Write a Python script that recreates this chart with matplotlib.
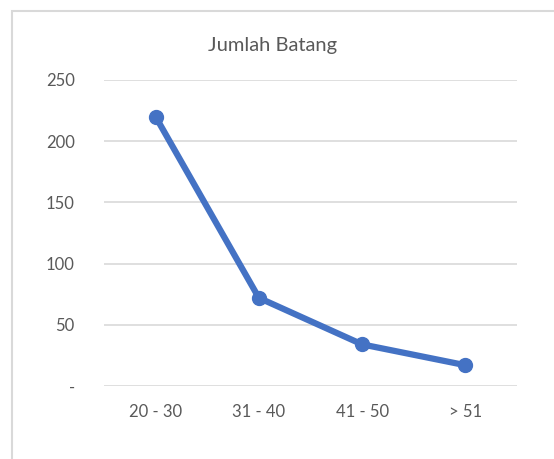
import matplotlib.pyplot as plt
from matplotlib.patches import Rectangle
from matplotlib.ticker import FuncFormatter

# Data
categories = ["20 - 30", "31 - 40", "41 - 50", "> 51"]
jumlah_batang = [220, 72, 34, 17]
y_ticks = [0, 50, 100, 150, 200, 250]

text_color = "#595959"
line_color = "#4472C4"
grid_color = "#D9D9D9"

plt.rcParams['font.family'] = ['Lato', 'DejaVu Sans']

fig = plt.figure(figsize=(5.54, 4.59), dpi=100)
ax = fig.add_axes([104 / 554, 1 - 386 / 459, (517 - 104) / 554, (386 - 80) / 459])

# Outer chart border (Excel-like frame, cut at right and bottom)
fig.patches.append(Rectangle((12 / 554, -0.01), 1.0, 1 - 11 / 459 + 0.01,
                             transform=fig.transFigure, fill=False,
                             edgecolor=grid_color, linewidth=1.5))

x = range(len(categories))
ax.plot(x, jumlah_batang, color=line_color, linewidth=4.5, marker="o",
        markersize=10, solid_capstyle="round", zorder=3)

ax.set_xlim(-0.5, len(categories) - 0.5)
ax.set_ylim(0, 250)
ax.set_yticks(y_ticks)
ax.yaxis.set_major_formatter(FuncFormatter(lambda v, p: "-" if v == 0 else f"{int(v)}"))
ax.set_xticks(list(x))
ax.set_xticklabels(categories)

ax.grid(axis="y", color=grid_color, linewidth=1.2)
ax.set_axisbelow(True)
for s in ax.spines.values():
    s.set_visible(False)
ax.tick_params(axis="both", length=0, labelsize=12, colors=text_color)
ax.tick_params(axis="y", pad=21)
ax.tick_params(axis="x", pad=13)
for lbl in ax.get_yticklabels():
    lbl.set_horizontalalignment("right")

fig.text(273 / 554, 1 - 46 / 459, "Jumlah Batang", ha="center", va="center",
         fontsize=14.5, color=text_color)

fig.savefig("out.png", dpi=100)
